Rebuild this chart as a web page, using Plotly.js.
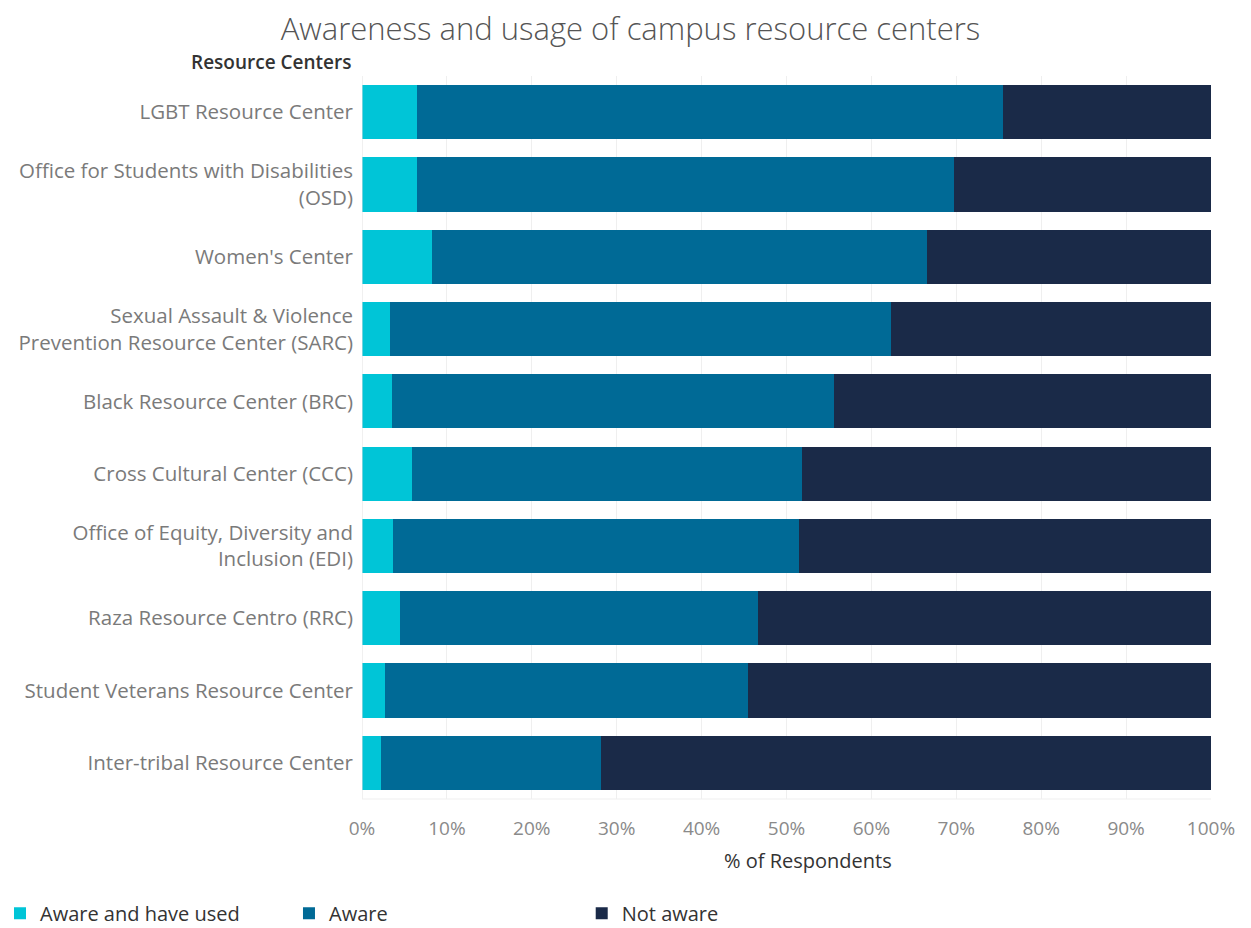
<!DOCTYPE html>
<html>
<head>
<meta charset="utf-8">
<script src="https://cdn.plot.ly/plotly-3.0.1.min.js"></script>
<style>html,body{margin:0;padding:0;background:#fff;}#chart{width:1251px;height:928px;}</style>
</head>
<body>
<div id="chart"></div>
<script>
const centers = [
  "LGBT Resource Center",
  "Office for Students with Disabilities<br>(OSD)",
  "Women's Center",
  "Sexual Assault & Violence<br>Prevention Resource Center (SARC)",
  "Black Resource Center (BRC)",
  "Cross Cultural Center (CCC)",
  "Office of Equity, Diversity and<br>Inclusion (EDI)",
  "Raza Resource Centro (RRC)",
  "Student Veterans Resource Center",
  "Inter-tribal Resource Center"
];
const awareUsed = [6.5, 6.5, 8.3, 3.3, 3.5, 5.9, 3.6, 4.5, 2.7, 2.2];
const aware     = [69.0, 63.2, 58.3, 59.0, 52.1, 45.9, 47.9, 42.2, 42.8, 25.9];
const notAware  = [24.5, 30.3, 33.4, 37.7, 44.4, 48.2, 48.5, 53.3, 54.5, 71.9];
const tickVals = [0,10,20,30,40,50,60,70,80,90,100];
const tickText = ["0%","10%","20%","30%","40%","50%","60%","70%","80%","90%","100%"];

const font = "Open Sans, Lato, sans-serif";
function tr(name, vals, color, leg){
  return {type:'bar', orientation:'h', name:name, x:vals, y:centers, legend:leg, showlegend:true,
    marker:{color:color, line:{width:0}}, hoverinfo:'x+name'};
}
const data = [
  tr("Aware and have used", awareUsed, "#00C5D7", 'legend'),
  tr("Aware", aware, "#006A96", 'legend2'),
  tr("Not aware", notAware, "#1A2A48", 'legend3')
];
function leg(x){
  return {orientation:'h', x:x, xref:'container', xanchor:'left', y:0.016, yref:'container', yanchor:'middle',
    font:{family:font, size:20, color:'#333333'}, itemwidth:30, bgcolor:'rgba(0,0,0,0)'};
}
const layout = {
  width:1251, height:928,
  showlegend:true,
  margin:{l:362, r:40, t:76, b:129},
  barmode:'stack', bargap:0.25,
  paper_bgcolor:'#fff', plot_bgcolor:'#fff',
  font:{family:font, color:'#7a7a7a', size:19},
  title:{text:"Awareness and usage of campus resource centers", x:0.504, xref:'container', xanchor:'center',
    y:0.98, yref:'container', yanchor:'top', font:{family:font, size:31, color:'#555555', weight:300}},
  xaxis:{range:[0,100], tickvals:tickVals, ticktext:tickText, showgrid:true, gridcolor:'#efefef', gridwidth:1,
    zeroline:false, showline:false, tickfont:{size:19, color:'#8a8a8a'}, ticks:'', ticklabelstandoff:16,
    fixedrange:true},
  yaxis:{categoryorder:'array', categoryarray:centers, autorange:'reversed', tickfont:{size:20.5, color:'#7a7a7a'},
    ticks:'', ticklabelstandoff:8, showgrid:false, zeroline:false, showline:false, fixedrange:true},
  legend:leg(0),
  legend2:leg(0.231),
  legend3:leg(0.465),
  shapes:[
    {type:'line', xref:'x', yref:'paper', x0:0, x1:0, y0:0, y1:1, line:{color:'#e2e2e2', width:1}},
    {type:'line', xref:'paper', yref:'paper', x0:0, x1:1, y0:0, y1:0, line:{color:'#efefef', width:1}}
  ],
  annotations:[
    {text:"Resource Centers", xref:'paper', yref:'paper', x:0, xshift:-8, xanchor:'right', y:1, yshift:14, yanchor:'middle',
     showarrow:false, font:{family:font, size:19, color:'#333333', weight:600}},
    {text:"% of Respondents", xref:'paper', yref:'paper', x:0.5, xshift:21, xanchor:'center', y:0, yshift:-61, yanchor:'middle',
     showarrow:false, font:{family:font, size:20, color:'#333333', weight:500}}
  ]
};
Plotly.newPlot('chart', data, layout, {displayModeBar:false});
</script>
</body>
</html>
